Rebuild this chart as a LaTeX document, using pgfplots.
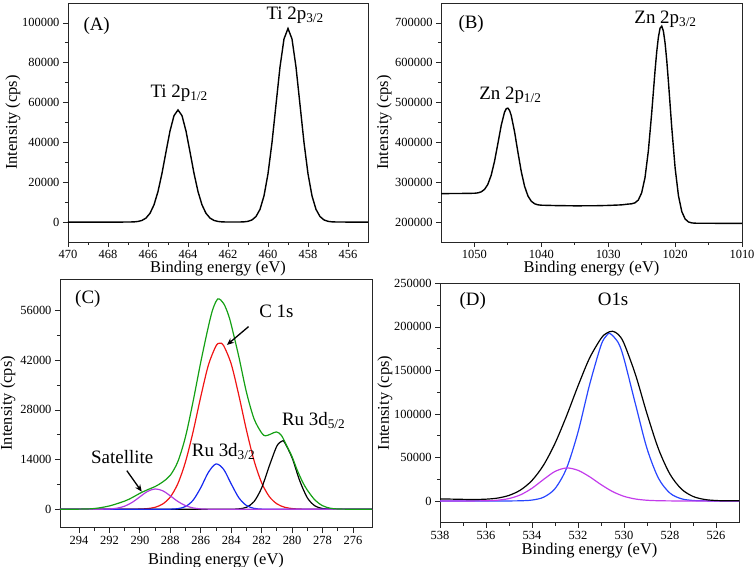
\documentclass[border=0pt]{standalone}
\usepackage{fontspec}
\setmainfont{Liberation Serif}
\usepackage{pgfplots}
\pgfplotsset{compat=1.18}
\usetikzlibrary{arrows.meta}

\definecolor{cgreen}{RGB}{20,160,20}
\definecolor{cred}{RGB}{240,20,20}
\definecolor{cblue}{RGB}{20,40,240}
\definecolor{cpurple}{RGB}{175,60,225}
\definecolor{dblue}{RGB}{40,70,255}
\definecolor{dpurple}{RGB}{195,60,235}

\pgfplotsset{
  xps/.style={
    scale only axis,
    anchor=south west,
    x dir=reverse,
    tick pos=left,
    tick align=outside,
    major tick length=5bp,
    minor tick length=3bp,
    scaled ticks=false,
    axis line style={line width=0.9bp, black!85},
    every tick/.style={black!85, line width=0.8bp},
    ticklabel style={font=\fontsize{12.5}{14}\selectfont},
    /pgf/number format/fixed,
    /pgf/number format/1000 sep={},
    /pgf/number format/assume math mode=true,
    xlabel={Binding energy (eV)},
    ylabel={Intensity (cps)},
    label style={font=\fontsize{16.5}{18}\selectfont},
    clip mode=individual,
  },
}
\tikzset{lbl/.style={anchor=base west, font=\fontsize{19}{22}\selectfont}}

\begin{document}
\begin{tikzpicture}
\useasboundingbox (0,0) rectangle (756bp,567bp);

% (A) Ti 2p
\begin{axis}[xps,
  at={(68bp,325bp)}, width=300bp, height=239bp,
  xmin=455, xmax=470, ymin=-10000, ymax=110000,
  xtick={456,458,...,470}, minor x tick num=1,
  ytick={0,20000,...,100000}, minor y tick num=1,
  xlabel style={at={(axis description cs:0.5,0)}, anchor=base, yshift=-31bp},
  ylabel style={at={(axis description cs:-0.17,0.5)}, anchor=base},
]
\addplot[black, line width=1.4bp] coordinates {
(470,0) (468,0) (467,20) (466.7,100) (466.5,310) (466.3,830) (466.1,2020)
(465.9,4400) (465.7,8650) (465.5,15340) (465.3,24490) (465.1,35240)
(464.9,45720) (464.7,53430) (464.5,56300) (464.3,53430) (464.1,45720)
(463.9,35240) (463.7,24490) (463.5,15340) (463.3,8650) (463.1,4400)
(462.9,2020) (462.7,830) (462.5,310) (462.3,100) (462,20) (461.5,20)
(461.2,117) (461,375) (460.8,1080) (460.6,2780) (460.4,6390) (460.2,13150)
(460,24240) (459.8,39950) (459.6,58950) (459.4,77860) (459.2,91950)
(459,97200) (458.8,91950) (458.6,77860) (458.4,58950) (458.2,39950)
(458,24240) (457.8,13150) (457.6,6390) (457.4,2780) (457.2,1080)
(457,375) (456.8,117) (456.5,20) (455,0)
};
\node[lbl] at (axis cs:469.4,96300) {(A)};
\node[lbl] at (axis cs:466.05,62700) {Ti 2p\textsubscript{1/2}};
\node[lbl] at (axis cs:460.25,101700) {Ti 2p\textsubscript{3/2}};
\end{axis}

% (B) Zn 2p
\begin{axis}[xps,
  at={(441bp,325bp)}, width=301bp, height=239bp,
  xmin=1010, xmax=1055, ymin=150000, ymax=750000,
  xtick={1010,1020,...,1050}, minor x tick num=1,
  ytick={200000,300000,...,700000}, minor y tick num=1,
  xlabel style={at={(axis description cs:0.5,0)}, anchor=base, yshift=-31bp},
  ylabel style={at={(axis description cs:-0.176,0.5)}, anchor=base},
]
\addplot[black, line width=1.4bp] coordinates {
(1055,271500) (1053,271700) (1051,272000) (1050,272400) (1049.5,273300)
(1049,275800) (1048.5,281900) (1048,294600) (1047.5,317400) (1047,352300)
(1046.5,396700) (1046,442400) (1045.5,476000) (1045.25,484500) (1045,486000)
(1044.75,480300) (1044.5,467600) (1044,426600) (1043.5,375300) (1043,326900)
(1042.5,289600) (1042,265500) (1041.5,252300) (1041,245900) (1040.5,243300)
(1040,242400) (1038,241500) (1035,240800) (1032,241000) (1030,241800)
(1028,243200) (1027,245200) (1026.5,245900) (1026,248300) (1025.5,255400)
(1025,273500) (1024.5,311700) (1024,378500) (1023.5,473800) (1023,580000)
(1022.75,627300) (1022.5,664100) (1022.25,686700) (1022,692000)
(1021.75,679300) (1021.5,649500) (1021.25,605900) (1021,552800)
(1020.5,437200) (1020,336100) (1019.5,266100) (1019,226300) (1018.5,207700)
(1018,200300) (1017.5,197900) (1017,197200) (1015,197000) (1012,196800)
(1010,196700)
};
\node[lbl] at (axis cs:1052.9,686700) {(B)};
\node[lbl] at (axis cs:1049.8,506500) {Zn 2p\textsubscript{1/2}};
\node[lbl] at (axis cs:1026.6,699200) {Zn 2p\textsubscript{3/2}};
\end{axis}

% (C) C 1s / Ru 3d
\begin{axis}[xps,
  at={(60bp,39.3bp)}, width=312bp, height=248.7bp,
  xmin=274.75, xmax=295.25, ymin=-5200, ymax=64900,
  xtick={276,278,...,294}, minor x tick num=1,
  ytick={0,14000,...,56000}, minor y tick num=1,
  xlabel style={at={(axis description cs:0.5,0)}, anchor=base, yshift=-37bp},
  ylabel style={at={(axis description cs:-0.154,0.5)}, anchor=base},
]
\addplot[cred, line width=1.2bp, smooth] coordinates {
(295.25,0) (292,0) (291,3) (290.5,14) (290,54) (289.5,183) (289,554)
(288.5,1480) (288,3480) (287.5,7270) (287,13430) (286.5,21950) (286,31740)
(285.5,40620) (285,46030) (284.74,46800) (284.5,46140) (284,40940)
(283.5,32130) (283,22320) (282.5,13720) (282,7460) (281.5,3590) (281,1530)
(280.5,577) (280,193) (279.5,57) (279,15) (278,0) (274.75,0)
};
\addplot[black, line width=1.2bp, smooth] coordinates {
(295.25,0) (284.5,0) (284,14) (283.5,105) (283,560) (282.5,2160) (282,6020)
(281.5,12180) (281,17820) (280.66,19200) (280.5,18890) (280,14490)
(279.5,8050) (279,3240) (278.5,945) (278,200) (277.5,30) (277,0) (274.75,0)
};
\addplot[cblue, line width=1.2bp, smooth] coordinates {
(295.25,0) (289,0) (288.5,3) (288,26) (287.5,169) (287,776) (286.5,2570)
(286,6090) (285.5,10400) (285,12770) (284.5,11260) (284,7140) (283.5,3250)
(283,1065) (282.5,251) (282,42) (281.5,5) (281,0) (274.75,0)
};
\addplot[cpurple, line width=1.2bp, smooth] coordinates {
(295.25,0) (293.5,0) (293,4) (292.5,19) (292,87) (291.5,307) (291,868)
(290.5,1955) (290,3510) (289.5,5020) (289,5726) (288.5,5205) (288,3773)
(287.5,2180) (287,1003) (286.5,368) (286,108) (285.5,25) (285,5) (284.5,0)
(274.75,0)
};
\addplot[cgreen, line width=1.2bp, smooth] coordinates {
(295.25,0) (294,30) (293,200) (292,940) (291,2300) (290.5,3300) (290,4500)
(289.5,5500) (289,6400) (288.5,7700) (288,9600) (287.5,13500) (287,20500)
(286.5,30500) (286,41500) (285.5,51500) (285.2,56500) (284.87,59300)
(284.5,58000) (284.2,55000) (284,52000) (283.5,43000) (283,33000)
(282.5,25500) (282,21500) (281.75,20700) (281.4,21200) (281.03,21800)
(280.7,20800) (280.33,17700) (280,14800) (279.67,11100) (279.3,7600)
(279,5400) (278.5,2600) (278,1000) (277.5,300) (277,80) (276,0) (274.75,0)
};
\node[lbl] at (axis cs:294.48,57900) {(C)};
\node[lbl] at (axis cs:282.38,54100) {C 1s};
\node[lbl] at (axis cs:293.43,12770) {Satellite};
\node[lbl] at (axis cs:286.81,14830) {Ru 3d\textsubscript{3/2}};
\node[lbl] at (axis cs:280.89,23480) {Ru 3d\textsubscript{5/2}};
\draw[-{Stealth[length=7bp,width=6bp]}, line width=1.3bp]
  (axis cs:282.86,51480) -- (axis cs:284.28,46320);
\draw[-{Stealth[length=7bp,width=6bp]}, line width=1.3bp]
  (axis cs:290.86,10880) -- (axis cs:289.88,4960);
\end{axis}

% (D) O 1s
\begin{axis}[xps,
  at={(440bp,44.3bp)}, width=299bp, height=239.3bp,
  xmin=525, xmax=538, ymin=-25000, ymax=250000,
  xtick={526,528,...,538}, minor x tick num=1,
  ytick={0,50000,...,250000}, minor y tick num=1,
  xlabel style={at={(axis description cs:0.5,0)}, anchor=base, yshift=-32bp},
  ylabel style={at={(axis description cs:-0.171,0.5)}, anchor=base},
]
\addplot[dblue, line width=1.2bp, smooth] coordinates {
(538,0) (535.5,0) (535,30) (534.5,194) (534,1020) (533.5,4240) (533,14120)
(532.5,37400) (532,79050) (531.5,133200) (531,178800) (530.75,190300)
(530.6,192300) (530.25,181900) (530,163300) (529.5,111100) (529,60230)
(528.5,26020) (528,8960) (527.5,2460) (527,540) (526.5,95) (526,15)
(525.5,0) (525,0)
};
\addplot[dpurple, line width=1.2bp, smooth] coordinates {
(538,0) (537.5,0) (537,8) (536.5,48) (536,226) (535.5,875) (535,2750)
(534.5,7020) (534,14600) (533.5,24650) (533,33900) (532.5,37900)
(532,35200) (531.5,27870) (531,18800) (530.5,10810) (530,5300) (529.5,2210)
(529,787) (528.5,239) (528,62) (527.5,14) (527,0) (525,0)
};
\addplot[black, line width=1.2bp, smooth] coordinates {
(538,2300) (537.5,2100) (537,1830) (536.5,1685) (536,2040) (535.5,3280)
(535,6370) (534.5,12550) (534,23550) (533.5,41100) (533,66150)
(532.5,97600) (532,132150) (531.5,164000) (531,186700) (530.75,192900)
(530.5,195000) (530.25,191400) (530,181100) (529.5,145100) (529,100200)
(528.5,59700) (528,30700) (527.5,13600) (527,5200) (526.5,1720) (526,490)
(525.5,200) (525,150)
};
\node[lbl] at (axis cs:537.3,224500) {(D)};
\node[lbl] at (axis cs:531.29,224500) {O1s};
\end{axis}
\end{tikzpicture}
\end{document}
